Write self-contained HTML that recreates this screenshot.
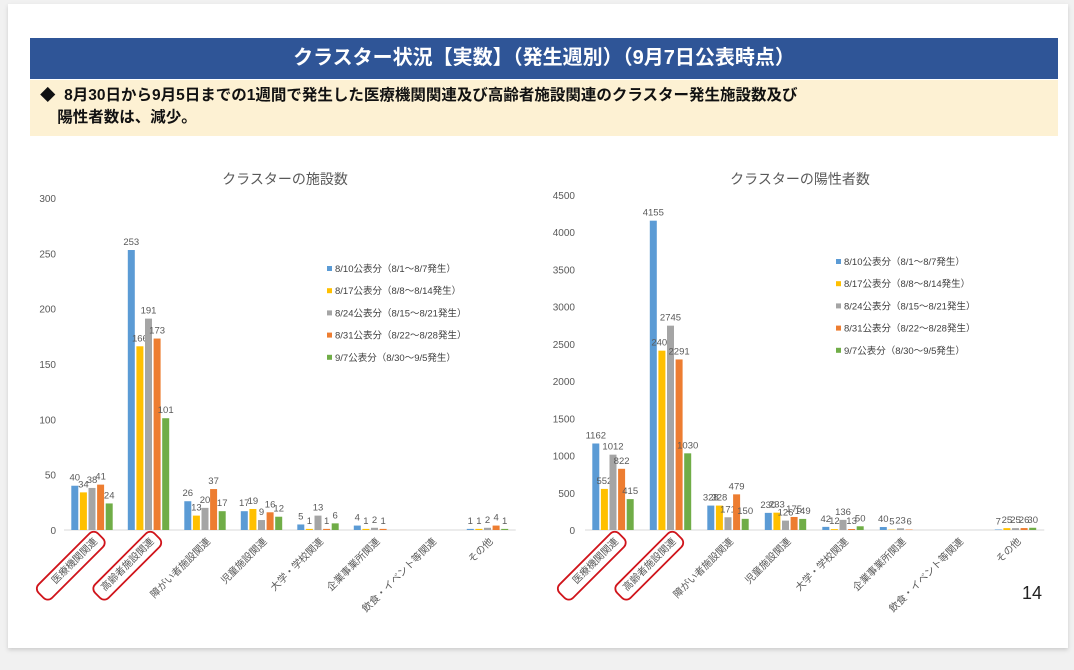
<!DOCTYPE html>
<html><head><meta charset="utf-8"><style>
body{margin:0;width:1074px;height:670px;background:#f1f1f1;overflow:hidden;font-family:"Liberation Sans","Noto Sans CJK JP",sans-serif}
#slide{position:absolute;left:8px;top:4px;width:1060px;height:644px;background:#fff;box-shadow:0 2px 4px #ccc}
#title{position:absolute;left:30px;top:38px;width:1028px;height:41px;background:#2f5597;color:#fff;font-size:20px;font-weight:bold;text-align:center;line-height:41px}
#note{position:absolute;left:30px;top:80px;width:1028px;height:56px;background:#fdf1d3;font-size:15.5px;font-weight:bold;color:#111;box-sizing:border-box;padding:5px 0 0 10px;line-height:22px}
svg{position:absolute;left:0;top:0}
</style></head><body>
<div id="slide"></div>
<div id="title">クラスター状況【実数】（発生週別）（9月7日公表時点）</div>
<div id="note">◆&nbsp; 8月30日から9月5日までの1週間で発生した医療機関関連及び高齢者施設関連のクラスター発生施設数及び<br>&nbsp;&nbsp;&nbsp;&nbsp;陽性者数は、減少。</div>
<svg id="chart" width="1074" height="670"></svg>
<script>
const categories=["医療機関関連","高齢者施設関連","障がい者施設関連","児童施設関連","大学・学校関連","企業事業所関連","飲食・イベント等関連","その他"];
const seriesNames=["8/10公表分（8/1～8/7発生）","8/17公表分（8/8～8/14発生）","8/24公表分（8/15～8/21発生）","8/31公表分（8/22～8/28発生）","9/7公表分（8/30～9/5発生）"];
const facilities0=[40,253,26,17,5,4,0,1];
const facilities1=[34,166,13,19,1,1,0,1];
const facilities2=[38,191,20,9,13,2,0,2];
const facilities3=[41,173,37,16,1,1,0,4];
const facilities4=[24,101,17,12,6,0,0,1];
const patients0=[1162,4155,328,230,42,40,0,7];
const patients1=[552,2409,328,233,12,5,0,25];
const patients2=[1012,2745,171,126,136,23,0,25];
const patients3=[822,2291,479,175,13,6,0,26];
const patients4=[415,1030,150,149,50,0,0,30];
const leftTicks=[0,50,100,150,200,250,300];
const rightTicks=[0,500,1000,1500,2000,2500,3000,3500,4000,4500];
const colors=["#5b9bd5","#ffc000","#a5a5a5","#ed7d31","#70ad47"];
const svg=document.getElementById('chart');
const NS="http://www.w3.org/2000/svg";
function mk(tag,attrs,text){const e=document.createElementNS(NS,tag);for(const k in attrs)e.setAttribute(k,attrs[k]);if(text!==undefined)e.textContent=text;svg.appendChild(e);return e;}
function drawChart(o){
  const y=v=>o.y0-(v/o.max)*(o.y0-o.yTop);
  const x=i=>o.x0+o.step*i;
  let t=mk('text',{x:o.titleX,y:184,'font-size':14,fill:'#595959','text-anchor':'middle'},o.title);
  
  o.ticks.forEach(v=>{
    const e=mk('text',{x:o.axisX,y:y(v)+4,'font-size':10,fill:'#595959','text-anchor':'end'},v);
    
  });
  const ax=mk('line',{x1:o.x0-28,x2:o.x0+o.step*7.5,y1:o.y0,y2:o.y0,stroke:'#d9d9d9','stroke-width':1});
  
  o.series.forEach((s,si)=>{
    s.forEach((v,ci)=>{
      const bx=x(ci)+(si-2)*8.6-3.5;
      const r=mk('rect',{x:bx,y:y(v),width:7,height:o.y0-y(v),fill:colors[si]});
      
      if(v>0||ci===7){
        const l=mk('text',{x:bx+3.5,y:y(v)-5-(si%2)*0,'font-size':9.5,fill:'#595959','text-anchor':'middle'},v);
        
      }
    });
  });
  categories.forEach((c,ci)=>{
    const cx=x(ci)+6,cy=o.y0+12;
    const e=mk('text',{x:cx,y:cy,'font-size':10,fill:'#595959','text-anchor':'end',transform:`rotate(-45 ${cx} ${cy})`},c);
    
    if(ci<2){
      const b=mk('rect',{x:cx-78,y:cy-12,width:84,height:19,rx:6,fill:'none',stroke:'#d0141b','stroke-width':1.8,transform:`rotate(-45 ${cx} ${cy})`});
      
    }
  });
  seriesNames.forEach((n,si)=>{
    const ly=o.legY+si*22.2;
    const r=mk('rect',{x:o.legX,y:ly-6,width:5,height:5,fill:colors[si]});
    
    const e=mk('text',{x:o.legX+8,y:ly,'font-size':9.5,fill:'#404040'},n);
    
  });
}
drawChart({key:'facilities',title:'クラスターの施設数',titleX:285,x0:92,step:56.5,y0:530,yTop:198,max:300,ticks:leftTicks,axisX:56,legX:327,legY:272,
  series:[facilities0,facilities1,facilities2,facilities3,facilities4]});
drawChart({key:'patients',title:'クラスターの陽性者数',titleX:800,x0:613,step:57.5,y0:530,yTop:195,max:4500,ticks:rightTicks,axisX:575,legX:836,legY:265,
  series:[patients0,patients1,patients2,patients3,patients4]});
const pn=mk('text',{x:1042,y:599,'font-size':18,fill:'#222','text-anchor':'end'},'14');


</script>
</body></html>
